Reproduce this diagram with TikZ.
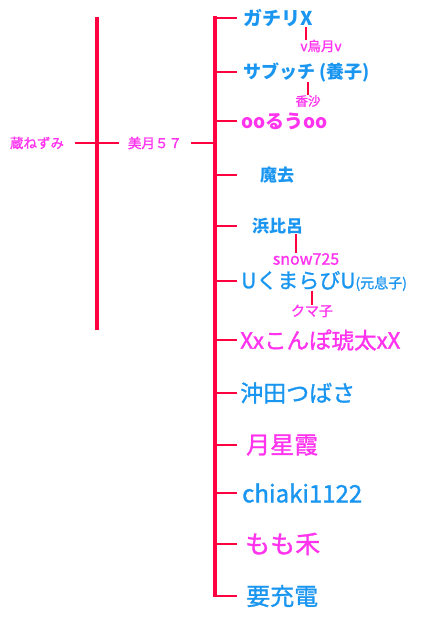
\documentclass[tikz,border=0pt]{standalone}
\usepackage{fontspec}
\newfontfamily\jp{Noto Sans CJK JP}
\newfontfamily\jpm[FakeBold=1.3]{Noto Sans CJK JP}
\usetikzlibrary{positioning}
\definecolor{linered}{HTML}{FF0040}
\definecolor{nameblue}{HTML}{1A96F0}
\definecolor{namepink}{HTML}{FF33EE}
\newcommand{\fsz}[1]{\fontsize{#1}{#1}\selectfont}

\begin{document}
\begin{tikzpicture}[x=1pt, y=-1pt,
  bar/.style={draw=linered, line width=4pt},
  tick/.style={draw=linered, line width=1.3pt},
  midtick/.style={draw=linered, line width=2pt},
  thicktick/.style={draw=linered, line width=2.6pt},
  sub/.style={draw=linered, line width=1.5pt},
  boy/.style={anchor=west, inner sep=0pt, text=nameblue},
  girl/.style={anchor=west, inner sep=0pt, text=namepink},
  note/.style={inner sep=0pt, text=namepink, font=\jpm\fsz{13.5}}]
  \useasboundingbox (0,0) rectangle (428,617);
  % the two spines
  \coordinate (lefttop) at (97,17);
  \coordinate (leftbot) at (97,330);
  \coordinate (spine) at (215,16.5);
  \coordinate (spinebot) at (215,597);
  \coordinate (tickend) at (237,0);
  \draw[bar] (lefttop) -- (leftbot);
  \draw[bar] (spine) -- (spinebot);
  % parents
  \node[note, inner xsep=11pt] (kura) at (37,143) {蔵ねずみ};
  \node[note, inner xsep=9pt] (mizuki) at (155,143) {美月５７};
  \draw[midtick] (kura.east) -- (mizuki.west);
  \draw[midtick] (mizuki.east) -- (spine |- mizuki.east);
  % children
  \node[boy, font=\jp\bfseries\fsz{19}] (gachi) at (243,18) {ガチリX};
  \node[boy, font=\jp\bfseries\fsz{18}] (sabu) at (243,72) {サブッチ (養子)};
  \node[girl, font=\jp\bfseries\fsz{19}] (ooruu) at (241,121) {ooるうoo};
  \node[boy, font=\jp\bfseries\fsz{17}] (makyo) at (260,175) {魔去};
  \node[boy, font=\jp\bfseries\fsz{17}] (hama) at (252,226) {浜比呂};
  \node[boy, font=\jpm\fsz{21}] (kuma) at (241,281) {UくまらびU{\fsz{14}(元息子)}};
  \node[girl, font=\jpm\fsz{22.5}] (konpo) at (240,340) {Xxこんぽ琥太xX};
  \node[boy, font=\jpm\fsz{23}] (okita) at (240,393) {沖田つばさ};
  \node[girl, font=\jpm\fsz{24}] (tsuki) at (246,445) {月星霞};
  \node[boy, font=\jpm\fsz{24}] (chiaki) at (242,493) {chiaki1122};
  \node[girl, font=\jpm\fsz{25}] (momo) at (245,544) {もも禾};
  \node[boy, font=\jpm\fsz{24}] (yoju) at (246,596) {要充電};
  % partners
  \node[note] (karasu) at (321,46) {v烏月v};
  \node[note, font=\jpm\fsz{12.5}] (kasha) at (308,101) {香沙};
  \node[note, font=\jpm\fsz{16}] (snow) at (306,259) {snow725};
  \node[note, font=\jpm\fsz{14}] (kumako) at (312,311) {クマ子};
  % ticks
  \foreach \n in {gachi,ooruu}
    \draw[thicktick] (spine |- \n.west) -- (tickend |- \n.west);
  \foreach \n in {makyo,hama,kuma}
    \draw[midtick] (spine |- \n.west) -- (tickend |- \n.west);
  \foreach \n in {sabu,konpo,okita,tsuki,chiaki,momo,yoju}
    \draw[tick] (spine |- \n.west) -- (tickend |- \n.west);
  % partner links
  \draw[sub] ([xshift=-15pt]karasu.north) -- ([xshift=-15pt]karasu.north |- gachi.south);
  \draw[sub] (kasha.north) -- (kasha.north |- sabu.south);
  \draw[sub] ([xshift=-10pt]snow.north) -- ([xshift=-10pt]snow.north |- hama.south);
  \draw[sub] (kumako.north) -- (kumako.north |- kuma.south);
\end{tikzpicture}
\end{document}
